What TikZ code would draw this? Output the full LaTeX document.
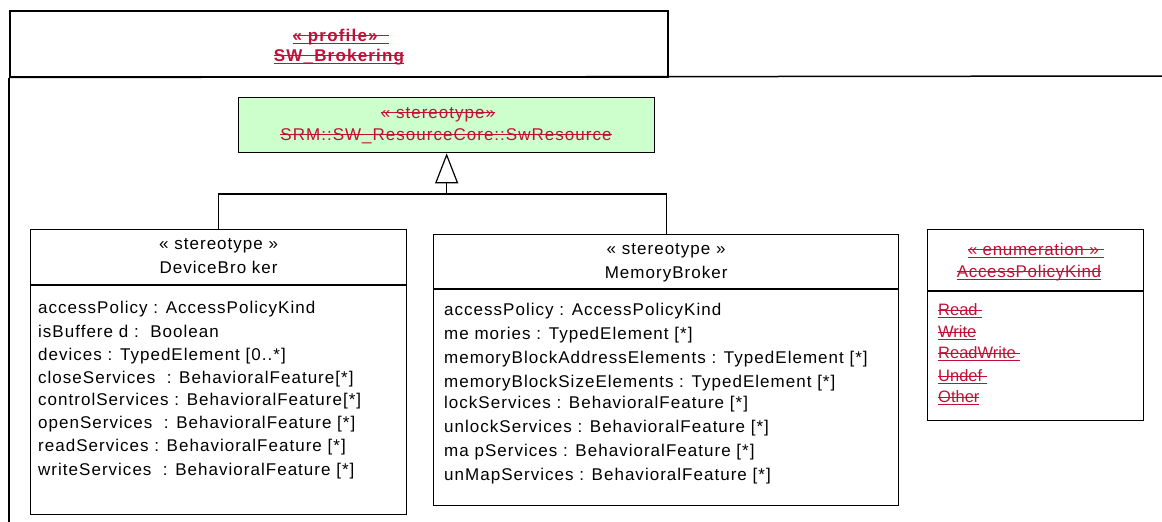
\documentclass[tikz,border=0pt]{standalone}
\usepackage{fontspec}
\setmainfont{Liberation Sans}
\newfontfamily\af{Liberation Sans}[LetterSpace=6]
\newfontfamily\rf{Liberation Sans}[LetterSpace=6]
\newfontfamily\rbf{Liberation Sans Bold}[LetterSpace=7]
\newfontfamily\ehf{Liberation Sans}[LetterSpace=4]
\newfontfamily\ef{Liberation Sans}[LetterSpace=0]
\usetikzlibrary{arrows.meta}
\definecolor{chg}{RGB}{192,16,56}
\definecolor{gfill}{RGB}{204,255,204}
\newcommand\chgul[1]{\setbox0=\hbox{#1}\rlap{\rule[0.27em]{\wd0}{1pt}}\rlap{\rule[-0.2em]{\wd0}{1.5pt}}\box0}
\newcommand\chgst[1]{\setbox0=\hbox{#1}\rlap{\rule[0.27em]{\wd0}{1pt}}\box0}
\begin{document}
\begin{tikzpicture}[x=1pt,y=-1pt,
  umlbox/.style={draw, line width=1.3pt, inner sep=0, anchor=north west},
  sepline/.style={line width=1.1pt},
  frameline/.style={line width=1.5pt},
  conn/.style={line width=1.2pt},
  gen/.style={line width=1.2pt, -{Triangle[open, length=30pt, width=23pt, line width=1.2pt]}},
  txt/.style={font=\af\fontsize{17}{20}\selectfont, inner sep=0, anchor=base west},
  ctxt/.style={font=\af\fontsize{17}{20}\selectfont, inner sep=0, anchor=base},
  rtxt/.style={font=\rf\fontsize{17}{20}\selectfont, inner sep=0, anchor=base, text=chg},
  rbtxt/.style={font=\rbf\fontsize{17}{20}\selectfont, inner sep=0, anchor=base, text=chg},
  ehtxt/.style={font=\ehf\fontsize{17}{20}\selectfont, inner sep=0, anchor=base, text=chg},
  etxt/.style={font=\ef\fontsize{16.5}{20}\selectfont, inner sep=0, anchor=base west, text=chg}]
\useasboundingbox (0,0) rectangle (1162,522);

% profile frame
\node[draw, frameline, inner sep=0, anchor=north west, minimum width=658, minimum height=66] (prof) at (9,10) {};
\coordinate (fl) at (9,522);
\coordinate (fr) at (1162,76);
\draw[frameline] (prof.south west) -- (fl);
\draw[frameline] (prof.south west) -- (fr);
\node[rbtxt] (pt1) at (341,41) {\chgul{« profile»\ \ }};
\node[rbtxt] (pt2) at (339,61) {\chgul{SW\_Brokering}};

% SwResource
\node[umlbox, fill=gfill, minimum width=416, minimum height=55] (sr) at (238,97) {};
\node[rtxt] (sr1) at (438,118) {\chgst{« stereotype»}};
\node[rtxt] (sr2) at (446,140) {\chgst{SRM::SW\_ResourceCore::SwResource}};

% DeviceBroker
\node[umlbox, minimum width=376, minimum height=285] (db) at (30,229) {};
\draw[sepline] (db.west |- 0,285) -- (db.east |- 0,285);
\node[ctxt] (dbh1) at (db.north |- 0,249) {« stereotype »};
\node[ctxt] (dbh2) at (db.north |- 0,273) {DeviceBro ker};
\foreach \t/\y [count=\i] in {{accessPolicy : AccessPolicyKind}/313,
  {isBuffere d :\ \ Boolean}/337,
  {devices : TypedElement [0..*]}/360,
  {closeServices\ \ : BehavioralFeature[*]}/383,
  {controlServices : BehavioralFeature[*]}/405,
  {openServices\ \ : BehavioralFeature [*]}/428,
  {readServices : BehavioralFeature [*]}/451,
  {writeServices\ \ : BehavioralFeature [*]}/475}
  \node[txt] (dba\i) at (38,\y) {\t};

% MemoryBroker
\node[umlbox, minimum width=465, minimum height=271] (mb) at (433,234) {};
\draw[sepline] (mb.west |- 0,289) -- (mb.east |- 0,289);
\node[ctxt] (mbh1) at (mb.north |- 0,254) {« stereotype »};
\node[ctxt] (mbh2) at (mb.north |- 0,278) {MemoryBroker};
\foreach \t/\y [count=\i] in {{accessPolicy : AccessPolicyKind}/315,
  {me mories : TypedElement [*]}/339,
  {memoryBlockAddressElements : TypedElement [*]}/363,
  {memoryBlockSizeElements : TypedElement [*]}/387,
  {lockServices : BehavioralFeature [*]}/408,
  {unlockServices : BehavioralFeature [*]}/432,
  {ma pServices : BehavioralFeature [*]}/456,
  {unMapServices : BehavioralFeature [*]}/480}
  \node[txt] (mba\i) at (444,\y) {\t};

% AccessPolicyKind
\node[umlbox, minimum width=216, minimum height=191] (ap) at (927,229) {};
\draw[sepline] (ap.west |- 0,291) -- (ap.east |- 0,291);
\node[ehtxt] (aph1) at (1036,255) {\chgul{« enumeration »\ }};
\node[ehtxt] (aph2) at (1029,277) {\chgul{AccessPolicyKind}};
\foreach \t/\y [count=\i] in {{Read\ }/315, {Write}/337, {ReadWrite\ }/358, {Undef\ }/381, {Other}/402}
  \node[etxt] (apl\i) at (938,\y) {\chgul{\t}};

% generalization
\coordinate (j) at (446,194);
\draw[conn] (db.north) -- (db.north |- j) -- (mb.north |- j) -- (mb.north);
\draw[gen] (sr.south |- j) -- (sr.south);
\end{tikzpicture}
\end{document}
